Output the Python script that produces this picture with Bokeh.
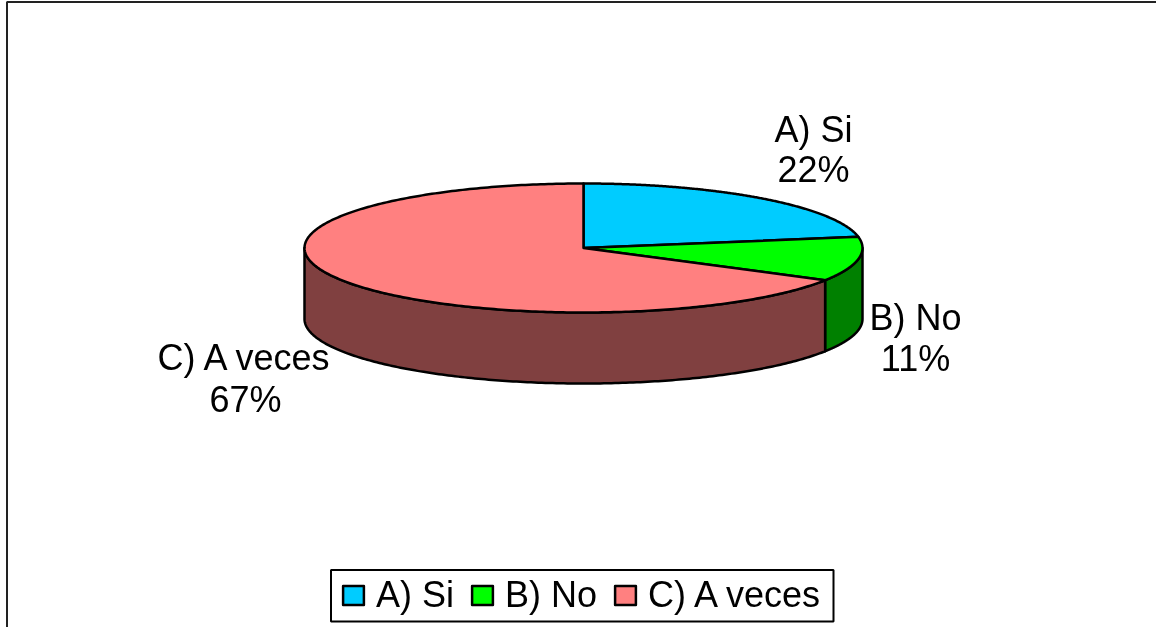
import numpy as np
from bokeh.plotting import figure
from bokeh.models import Legend, LegendItem, Range1d
from bokeh.core.properties import value
from bokeh.embed import file_html
from bokeh.resources import INLINE

categories = ["A) Si", "B) No", "C) A veces"]
counts = [2, 1, 6]
top_colors = ["#00CCFF", "#00FF00", "#FF8080"]
side_colors = ["#006680", "#008000", "#804040"]
FONT = "Liberation Sans"
FS = "36px"

W, H = 1156, 627
CX, CY, RX, RY, DEPTH = 583, 247.5, 279, 64.5, 71

p = figure(width=W, height=H, output_backend="svg", toolbar_location=None,
           x_range=Range1d(0, W), y_range=Range1d(H, 0), min_border=0,
           x_axis_type=None, y_axis_type=None, outline_line_color=None,
           background_fill_color="white", border_fill_color="white")
p.grid.visible = False
p.styles = {"position": "fixed", "left": "0px", "top": "0px"}

# frame (left and top edges only are visible in the picture)
p.line([6.5, 6.5, 1156], [627, 1.5, 1.5], line_color="#222222", line_width=2)


def ex(t):
    return CX + RX * np.sin(t)


def ey(t):
    return CY - RY * np.cos(t)


fractions = np.array(counts, dtype=float) / sum(counts)
edges = np.concatenate([[0], np.cumsum(fractions)]) * 2 * np.pi

# side walls: only the front half (t from pi/2 to 3pi/2) shows
for i in range(3):
    a, b = max(edges[i], np.pi / 2), min(edges[i + 1], 3 * np.pi / 2)
    if b <= a:
        continue
    t = np.linspace(a, b, 200)
    xs = np.concatenate([ex(t), ex(t[::-1])])
    ys = np.concatenate([ey(t), ey(t[::-1]) + DEPTH])
    p.patch(xs, ys, fill_color=side_colors[i], line_color="black", line_width=2.5, line_join="round")

# top faces
tops = []
for i in range(3):
    t = np.linspace(edges[i], edges[i + 1], 300)
    xs = np.concatenate([[CX], ex(t)])
    ys = np.concatenate([[CY], ey(t)])
    tops.append(p.patch(xs, ys, fill_color=top_colors[i], line_color="black", line_width=2.5, line_join="round"))

# data labels
pct = [f"{round(f * 100)}%" for f in fractions]
label_x = [813, 915, 245]
label_y = [[129, 169], [317, 358], [357, 399]]
for i in range(3):
    p.text([label_x[i]] * 2, label_y[i], text=[categories[i], pct[i]],
           text_font=value(FONT), text_font_size=value(FS), text_color="black",
           text_align="center", text_baseline="middle")

# legend box (shorter than Bokeh's own box would be with this padding)
p.quad(left=[330.5], right=[833], top=[569.5], bottom=[621], fill_color="white",
       line_color="black", line_width=2)

legend = Legend(items=[LegendItem(label=c, renderers=[r]) for c, r in zip(categories, tops)],
                orientation="horizontal", location=(330, 1),
                glyph_width=26, glyph_height=24, label_text_font=FONT, label_text_font_size=FS,
                label_text_color="black", label_standoff=10, spacing=15, padding=10, margin=0,
                border_line_color="white", border_line_alpha=0, background_fill_alpha=0)
p.add_layout(legend, "center")

open("out.html", "w").write(file_html(p, INLINE))
